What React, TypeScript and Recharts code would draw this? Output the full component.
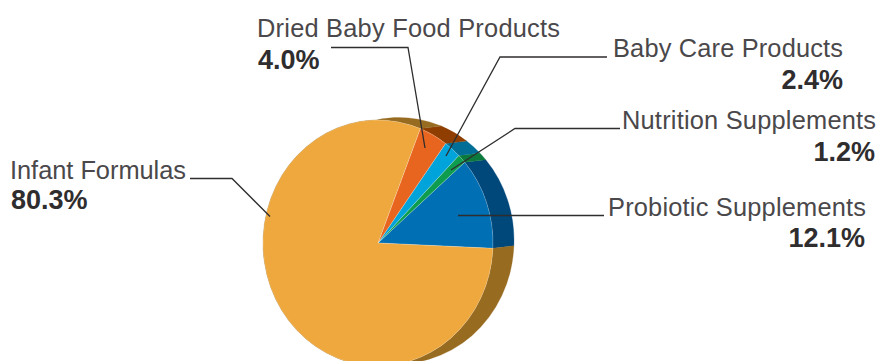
import React from "react";
import { PieChart, Pie, Cell } from "recharts";

const categories = ["Probiotic Supplements", "Nutrition Supplements", "Baby Care Products", "Dried Baby Food Products", "Infant Formulas"];
const shares = [12.1, 1.2, 2.4, 4.0, 80.3];
const topColors = ["#006FB3", "#0E9C4F", "#00A3DA", "#E7651F", "#EEA83D"];
const sideColors = ["#00477A", "#0B7A3C", "#006E96", "#8F3E00", "#976B20"];

const rows = categories.map((name, i) => ({ name, value: shares[i] }));

const CX = 378, CY = 243, RX = 115, RY = 123;
const DX = 21, DY = -2.5;
const FONT = "'Liberation Sans', Arial, sans-serif";
const INK = "#2f2d2e";

// Where each callout sits: name position and width, value position and the leader running into the slice.
const callouts: Record<string, { x: number; y: number; w: number; pctX: number; pctY: number; pctAnchor: "start" | "end"; leader: [number, number][] }> = {
  "Probiotic Supplements": { x: 608, y: 216, w: 258, pctX: 865, pctY: 247, pctAnchor: "end", leader: [[604, 215.5], [458, 215.5]] },
  "Nutrition Supplements": { x: 622, y: 129, w: 254, pctX: 875, pctY: 161, pctAnchor: "end", leader: [[620, 128.5], [515, 128.5], [451, 170]] },
  "Baby Care Products": { x: 613, y: 57, w: 230, pctX: 843, pctY: 89, pctAnchor: "end", leader: [[607, 57], [500, 57], [446, 156]] },
  "Dried Baby Food Products": { x: 257, y: 37, w: 303, pctX: 258, pctY: 69, pctAnchor: "start", leader: [[331, 47.5], [408, 47.5], [425, 148]] },
  "Infant Formulas": { x: 10, y: 179, w: 176, pctX: 11, pctY: 209, pctAnchor: "start", leader: [[190, 178.5], [232, 178.5], [270, 216.5]] },
};

const pt = (a: number, dx = 0, dy = 0): [number, number] => {
  const r = (a * Math.PI) / 180;
  return [CX + dx + RX * Math.cos(r), CY + dy - RY * Math.sin(r)];
};

// Top face of a slice: an elliptical wedge, so the disc reads as tilted.
const TopSlice = (p: any) => {
  const [x0, y0] = pt(p.startAngle);
  const [x1, y1] = pt(p.endAngle);
  const large = p.endAngle - p.startAngle > 180 ? 1 : 0;
  const d = `M${CX},${CY}L${x0},${y0}A${RX},${RY} 0 ${large} 0 ${x1},${y1}Z`;
  return <path d={d} fill={p.fill} stroke="#ffffff" strokeOpacity={0.35} strokeWidth={0.6} />;
};

// Rim of a slice: the band swept between the top arc and the same arc shifted back.
const SideSlice = (p: any) => {
  const [x0, y0] = pt(p.startAngle);
  const [x1, y1] = pt(p.endAngle);
  const [bx0, by0] = pt(p.startAngle, DX, DY);
  const [bx1, by1] = pt(p.endAngle, DX, DY);
  const large = p.endAngle - p.startAngle > 180 ? 1 : 0;
  const d = `M${x0},${y0}A${RX},${RY} 0 ${large} 0 ${x1},${y1}L${bx1},${by1}A${RX},${RY} 0 ${large} 1 ${bx0},${by0}Z`;
  return <path d={d} fill={p.fill} stroke={p.fill} strokeWidth={0.3} />;
};

const Callout = (p: any) => {
  const c = callouts[p.name];
  const points = c.leader.map((q) => q.join(",")).join(" ");
  return (
    <g>
      <polyline points={points} fill="none" stroke={INK} strokeWidth={1.3} />
      <text x={c.x} y={c.y} textAnchor="start" textLength={c.w} lengthAdjust="spacing" fontFamily={FONT} fontSize={25.4} fill="#4a484a">
        {p.name}
      </text>
      <text x={c.pctX} y={c.pctY} textAnchor={c.pctAnchor} fontFamily={FONT} fontWeight={700} fontSize={27} fill={INK}>
        {p.value.toFixed(1)}%
      </text>
    </g>
  );
};

export default function App() {
  return (
    <div style={{ position: "absolute", left: 0, top: 0, width: 878, height: 361, overflow: "hidden", background: "#fff" }}>
      <PieChart width={878} height={361} margin={{ top: 0, right: 0, bottom: 0, left: 0 }}>
        <Pie data={rows} dataKey="value" nameKey="name" cx={CX} cy={CY} outerRadius={RX} startAngle={-2.5} endAngle={357.5} isAnimationActive={false} shape={SideSlice} stroke="none">
          {rows.map((r, i) => <Cell key={r.name} fill={sideColors[i]} />)}
        </Pie>
        <Pie data={rows} dataKey="value" nameKey="name" cx={CX} cy={CY} outerRadius={RX} startAngle={-2.5} endAngle={357.5} isAnimationActive={false} shape={TopSlice} label={Callout} labelLine={false}>
          {rows.map((r, i) => <Cell key={r.name} fill={topColors[i]} />)}
        </Pie>
      </PieChart>
    </div>
  );
}
